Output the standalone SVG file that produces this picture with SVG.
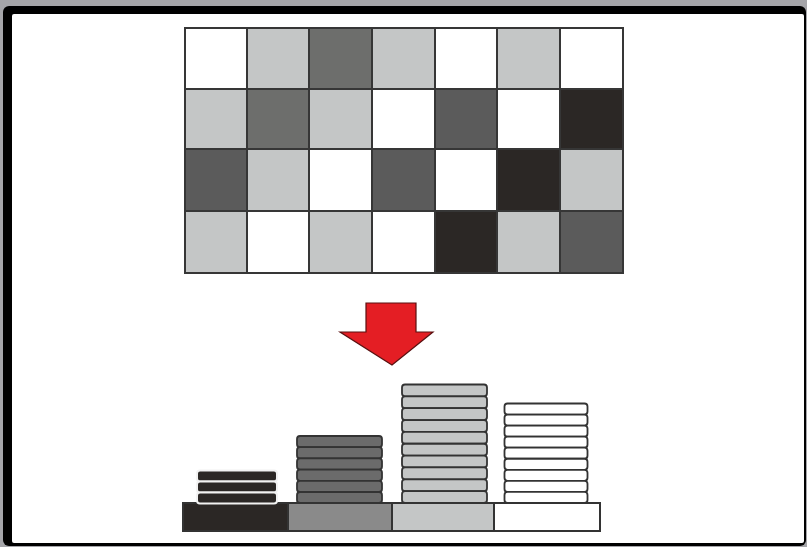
<svg xmlns="http://www.w3.org/2000/svg" width="807" height="547" viewBox="0 0 807 547">
<style>
.cell{stroke:#363636;stroke-width:2}
.w{fill:#ffffff}.l{fill:#c4c6c6}.m{fill:#6d6e6c}.d{fill:#5b5b5b}.b{fill:#2b2725}
.disk{stroke:#333333;stroke-width:1.8}
.dk{fill:#2b2725;stroke:#f2f2f2;stroke-width:2}
.base{stroke:#333333;stroke-width:2}
</style>
<rect x="0" y="0" width="807" height="547" fill="#a5a5a9"/>
<rect x="3" y="6" width="803" height="540" rx="6" fill="#000000"/>
<rect x="12" y="14" width="792" height="529" rx="2" fill="#ffffff"/>
<g id="grid">
<rect class="cell w" x="185" y="28" width="62" height="61"/>
<rect class="cell l" x="247" y="28" width="62" height="61"/>
<rect class="cell m" x="309" y="28" width="63" height="61"/>
<rect class="cell l" x="372" y="28" width="63" height="61"/>
<rect class="cell w" x="435" y="28" width="62" height="61"/>
<rect class="cell l" x="497" y="28" width="63" height="61"/>
<rect class="cell w" x="560" y="28" width="63" height="61"/>
<rect class="cell l" x="185" y="89" width="62" height="60"/>
<rect class="cell m" x="247" y="89" width="62" height="60"/>
<rect class="cell l" x="309" y="89" width="63" height="60"/>
<rect class="cell w" x="372" y="89" width="63" height="60"/>
<rect class="cell d" x="435" y="89" width="62" height="60"/>
<rect class="cell w" x="497" y="89" width="63" height="60"/>
<rect class="cell b" x="560" y="89" width="63" height="60"/>
<rect class="cell d" x="185" y="149" width="62" height="62"/>
<rect class="cell l" x="247" y="149" width="62" height="62"/>
<rect class="cell w" x="309" y="149" width="63" height="62"/>
<rect class="cell d" x="372" y="149" width="63" height="62"/>
<rect class="cell w" x="435" y="149" width="62" height="62"/>
<rect class="cell b" x="497" y="149" width="63" height="62"/>
<rect class="cell l" x="560" y="149" width="63" height="62"/>
<rect class="cell l" x="185" y="211" width="62" height="62"/>
<rect class="cell w" x="247" y="211" width="62" height="62"/>
<rect class="cell l" x="309" y="211" width="63" height="62"/>
<rect class="cell w" x="372" y="211" width="63" height="62"/>
<rect class="cell b" x="435" y="211" width="62" height="62"/>
<rect class="cell l" x="497" y="211" width="63" height="62"/>
<rect class="cell d" x="560" y="211" width="63" height="62"/>
</g>
<g id="arrow">
<polygon points="366,303 416,303 416,332 433,332 392,365 340,332 366,332" fill="#e41e24" stroke="#5a1010" stroke-width="1.2" stroke-linejoin="miter"/>
</g>
<g id="base">
<rect class="base b" x="183" y="503" width="105" height="28"/>
<rect class="base" x="288" y="503" width="104" height="28" fill="#8a8a8a"/>
<rect class="base l" x="392" y="503" width="102" height="28"/>
<rect class="base w" x="494" y="503" width="106" height="28"/>
</g>
<g id="stack-black">
<rect class="dk" x="197" y="470.5" width="80" height="11" rx="3"/>
<rect class="dk" x="197" y="481.5" width="80" height="11" rx="3"/>
<rect class="dk" x="197" y="492.5" width="80" height="11" rx="3"/>
</g>
<g id="stack-gray">
<rect class="disk" fill="#6b6b6b" x="297" y="436" width="85" height="11.2" rx="3"/>
<rect class="disk" fill="#6b6b6b" x="297" y="447.2" width="85" height="11.2" rx="3"/>
<rect class="disk" fill="#6b6b6b" x="297" y="458.4" width="85" height="11.2" rx="3"/>
<rect class="disk" fill="#6b6b6b" x="297" y="469.6" width="85" height="11.2" rx="3"/>
<rect class="disk" fill="#6b6b6b" x="297" y="480.8" width="85" height="11.2" rx="3"/>
<rect class="disk" fill="#6b6b6b" x="297" y="492" width="85" height="11" rx="3"/>
</g>
<g id="stack-light">
<rect class="disk l" x="402" y="384.5" width="85" height="11.85" rx="3"/>
<rect class="disk l" x="402" y="396.35" width="85" height="11.85" rx="3"/>
<rect class="disk l" x="402" y="408.2" width="85" height="11.85" rx="3"/>
<rect class="disk l" x="402" y="420.05" width="85" height="11.85" rx="3"/>
<rect class="disk l" x="402" y="431.9" width="85" height="11.85" rx="3"/>
<rect class="disk l" x="402" y="443.75" width="85" height="11.85" rx="3"/>
<rect class="disk l" x="402" y="455.6" width="85" height="11.85" rx="3"/>
<rect class="disk l" x="402" y="467.45" width="85" height="11.85" rx="3"/>
<rect class="disk l" x="402" y="479.3" width="85" height="11.85" rx="3"/>
<rect class="disk l" x="402" y="491.15" width="85" height="11.85" rx="3"/>
</g>
<g id="stack-white">
<rect class="disk w" x="504.5" y="403.5" width="83" height="11.05" rx="3"/>
<rect class="disk w" x="504.5" y="414.55" width="83" height="11.05" rx="3"/>
<rect class="disk w" x="504.5" y="425.6" width="83" height="11.05" rx="3"/>
<rect class="disk w" x="504.5" y="436.65" width="83" height="11.05" rx="3"/>
<rect class="disk w" x="504.5" y="447.7" width="83" height="11.05" rx="3"/>
<rect class="disk w" x="504.5" y="458.75" width="83" height="11.05" rx="3"/>
<rect class="disk w" x="504.5" y="469.8" width="83" height="11.05" rx="3"/>
<rect class="disk w" x="504.5" y="480.85" width="83" height="11.05" rx="3"/>
<rect class="disk w" x="504.5" y="491.9" width="83" height="11.1" rx="3"/>
</g>
</svg>
